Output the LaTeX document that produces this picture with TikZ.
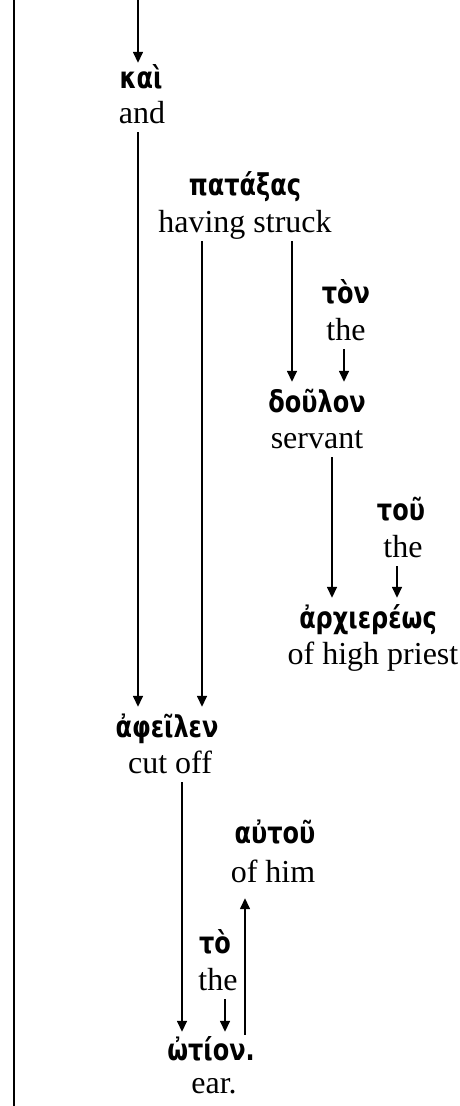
\documentclass[tikz,border=0pt]{standalone}
\usepackage{fontspec}
\setmainfont{Liberation Serif}
\newfontfamily\greekfont{DejaVu Sans}[FakeStretch=0.8]
\usetikzlibrary{arrows.meta}

\begin{document}
\begin{tikzpicture}[x=1pt,y=-1pt,
  gk/.style={anchor=base, inner sep=0pt,
    font=\greekfont\bfseries\fontsize{30}{34}\selectfont, text height=30pt},
  en/.style={anchor=base, inner sep=0pt,
    font=\fontsize{32}{36}\selectfont, text depth=9pt},
  arr/.style={line width=1.5pt, -{Triangle[length=11pt,width=10pt]}},
  rule/.style={line width=2pt}]
\useasboundingbox (0,0) rectangle (459,1106);

% left margin rule
\coordinate (ruletop) at (14,0);
\coordinate (rulebot) at (14,1106);
\draw[rule] (ruletop) -- (rulebot);

% word nodes: Greek above, gloss below
\node[gk] (kai)     at (141,88)   {καὶ};
\node[en] (and)     at (142,123)  {and};
\node[gk] (pat)     at (245,195)  {πατάξας};
\node[en] (having)  at (245,232)  {having struck};
\node[gk] (ton)     at (346,303)  {τὸν};
\node[en] (theA)    at (346,340)  {the};
\node[gk] (doulon)  at (317,412)  {δοῦλον};
\node[en] (servant) at (317,448)  {servant};
\node[gk] (tou)     at (401,520)  {τοῦ};
\node[en] (theB)    at (403,557)  {the};
\node[gk] (arch)    at (368,628)  {ἀρχιερέως};
\node[en] (ohp)     at (373,664)  {of high priest};
\node[gk] (afeilen) at (167,737)  {ἀφεῖλεν};
\node[en] (cutoff)  at (170,773)  {cut off};
\node[gk] (autou)   at (275,843)  {αὐτοῦ};
\node[en] (ofhim)   at (273,882)  {of him};
\node[gk] (to)      at (215,953)  {τὸ};
\node[en] (theC)    at (218,990)  {the};
\node[gk] (otion)   at (211,1060) {ὠτίον.};
\node[en] (ear)     at (214,1093) {ear.};

% connector columns
\coordinate (top) at (138,0);
\coordinate (c1) at (138,0);
\coordinate (c2) at (202,0);
\coordinate (c3) at (292,0);
\coordinate (c4) at (344,0);
\coordinate (c5) at (332,0);
\coordinate (c6) at (397,0);
\coordinate (c7) at (182,0);
\coordinate (c8) at (225,0);
\coordinate (c9) at (245,0);

\draw[arr] (top) -- ([yshift=-5pt]kai.north -| c1);
\draw[arr] (and.south -| c1) -- (afeilen.north -| c1);
\draw[arr] (having.south -| c2) -- (afeilen.north -| c2);
\draw[arr] (having.south -| c3) -- (doulon.north -| c3);
\draw[arr] (theA.south -| c4) -- (doulon.north -| c4);
\draw[arr] (servant.south -| c5) -- (arch.north -| c5);
\draw[arr] (theB.south -| c6) -- (arch.north -| c6);
\draw[arr] (cutoff.south -| c7) -- ([yshift=-2pt]otion.north -| c7);
\draw[arr] (theC.south -| c8) -- ([yshift=-2pt]otion.north -| c8);
\draw[arr] ([yshift=-5pt]otion.north -| c9) -- ([yshift=-7pt]ofhim.south -| c9);
\end{tikzpicture}
\end{document}
